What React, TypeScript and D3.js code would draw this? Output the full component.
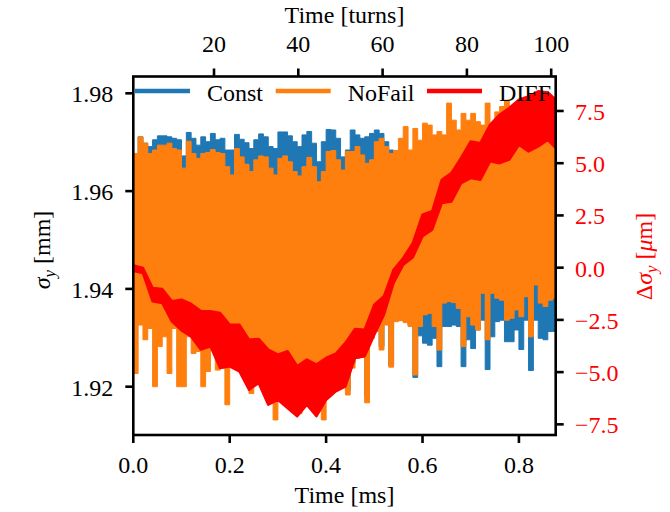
import * as d3 from "d3";

// sampling of the Const / NoFail envelopes (ms)
const T_STEP = 0.01;
const T_MAX = 0.8763;

// Const: upper / lower envelope of sigma_y [mm]
const constTop = [
  1.9674, 1.9711, 1.9698, 1.9691, 1.9705, 1.9713, 1.9713, 1.9711, 1.9708, 1.9705,
  1.9672, 1.972, 1.9708, 1.9694, 1.9711, 1.9701, 1.9718, 1.9705, 1.9708, 1.9684,
  1.9684, 1.9716, 1.9706, 1.9699, 1.9687, 1.9705, 1.9717, 1.9711, 1.9691, 1.9687,
  1.9721, 1.9721, 1.9713, 1.9701, 1.9691, 1.9715, 1.9722, 1.9698, 1.966, 1.9701,
  1.9726, 1.9725, 1.9708, 1.967, 1.9684, 1.9725, 1.9715, 1.9708, 1.9711, 1.9718,
  1.9725, 1.9718, 1.9701, 1.9684, 1.9683, 1.9668, 1.9665, 1.9667, 1.9664, 1.9666,
  1.9668, 1.9665, 1.9667, 1.9666, 1.9664, 1.9668, 1.9666, 1.9665, 1.9667, 1.9666,
  1.9668, 1.9665, 1.9664, 1.9667, 1.9666, 1.9668, 1.9665, 1.9667, 1.9666, 1.9664,
  1.9668, 1.9666, 1.9665, 1.9667, 1.9666, 1.9668, 1.9665, 1.9667,
];
const constBottom = [
  1.9345, 1.9346, 1.9344, 1.9345, 1.9347, 1.9345, 1.9344, 1.9346, 1.9345, 1.9347,
  1.9345, 1.9344, 1.9346, 1.9345, 1.9347, 1.9345, 1.9344, 1.9346, 1.9345, 1.9347,
  1.9345, 1.9344, 1.9346, 1.9345, 1.9347, 1.9345, 1.9344, 1.9346, 1.9345, 1.9347,
  1.9345, 1.9344, 1.9346, 1.9345, 1.9347, 1.9345, 1.9344, 1.9346, 1.9345, 1.9347,
  1.9345, 1.9344, 1.9346, 1.9345, 1.9193, 1.9248, 1.9261, 1.9265, 1.918, 1.9302,
  1.9316, 1.9282, 1.9333, 1.9244, 1.9336, 1.9336, 1.9333, 1.9326, 1.9219, 1.9304,
  1.9289, 1.9285, 1.9299, 1.9241, 1.9323, 1.9323, 1.9326, 1.9323, 1.9241, 1.9296,
  1.9278, 1.9316, 1.9336, 1.9235, 1.9302, 1.9333, 1.9336, 1.9292, 1.9292, 1.9316,
  1.9276, 1.9336, 1.9233, 1.9336, 1.9299, 1.9296, 1.9313, 1.9313,
];

// NoFail: upper / lower envelope of sigma_y [mm]
const noFailTop = [
  1.9677, 1.9711, 1.9698, 1.9677, 1.9684, 1.9694, 1.9694, 1.9698, 1.9687, 1.9684,
  1.9647, 1.9702, 1.9677, 1.9667, 1.9677, 1.9679, 1.9685, 1.9679, 1.9677, 1.965,
  1.9633, 1.9687, 1.967, 1.9655, 1.964, 1.9664, 1.9672, 1.967, 1.9647, 1.9633,
  1.9667, 1.9672, 1.966, 1.964, 1.9631, 1.965, 1.9669, 1.965, 1.9619, 1.964,
  1.9681, 1.9683, 1.9664, 1.9643, 1.9681, 1.9681, 1.9691, 1.9674, 1.9657, 1.9664,
  1.9701, 1.9708, 1.9691, 1.9677, 1.9683, 1.9708, 1.9732, 1.9684, 1.9728, 1.9704,
  1.9739, 1.9735, 1.9715, 1.9722, 1.9715, 1.978, 1.9745, 1.9725, 1.9759, 1.9745,
  1.9759, 1.9742, 1.9735, 1.978, 1.9725, 1.9762, 1.9773, 1.9786, 1.9766, 1.976,
  1.9766, 1.977, 1.9768, 1.9772, 1.977, 1.9768, 1.9764, 1.976,
];
const noFailBottom = [
  1.9227, 1.9326, 1.9296, 1.9319, 1.92, 1.9282, 1.9302, 1.9227, 1.9319, 1.92,
  1.92, 1.9302, 1.9268, 1.9272, 1.92, 1.9231, 1.9282, 1.9234, 1.9238, 1.9163,
  1.925, 1.925, 1.924, 1.9235, 1.9186, 1.9215, 1.9215, 1.921, 1.9175, 1.9132,
  1.918, 1.9175, 1.9165, 1.915, 1.9145, 1.916, 1.917, 1.9155, 1.915, 1.9132,
  1.918, 1.919, 1.9195, 1.92, 1.9183, 1.9238, 1.9258, 1.926, 1.9167, 1.9299,
  1.9313, 1.9275, 1.9326, 1.924, 1.9333, 1.9335, 1.9331, 1.9323, 1.9224, 1.9323,
  1.9347, 1.935, 1.9323, 1.9275, 1.9371, 1.9374, 1.9372, 1.936, 1.9282, 1.9343,
  1.9326, 1.9316, 1.9391, 1.9296, 1.9391, 1.9381, 1.9377, 1.9336, 1.934, 1.9357,
  1.9343, 1.9384, 1.9302, 1.9408, 1.9371, 1.9364, 1.9377, 1.9381,
];

// DIFF band on the right axis [um]
const diffTime = [
  0, 0.02, 0.04, 0.06, 0.08, 0.1, 0.12, 0.14, 0.16, 0.18, 0.2, 0.22, 0.24, 0.26, 0.28,
  0.3, 0.32, 0.34, 0.36, 0.38, 0.4, 0.42, 0.44, 0.46, 0.48, 0.5, 0.52, 0.54, 0.56, 0.58,
  0.6, 0.62, 0.64, 0.66, 0.68, 0.7, 0.72, 0.74, 0.76, 0.78, 0.8, 0.82, 0.84, 0.86, 0.8763,
];
const diffTop = [
  0.1, -0.02, -0.97, -1.02, -1.61, -1.53, -1.74, -2.07, -2.09, -2.17, -2.73, -2.73, -3.45,
  -3.41, -3.92, -4.16, -4.0, -4.72, -4.4, -4.64, -4.32, -4.12, -3.6, -2.94, -2.97, -1.77,
  -1.37, -0.1, 0.46, 1.18, 2.54, 2.7, 4.21, 4.53, 5.25, 6.04, 5.96, 6.84, 7.32, 7.64, 8.04,
  8.2, 8.44, 8.39, 8.04,
];
const diffBottom = [
  -0.15, -0.26, -1.61, -1.69, -2.57, -3.0, -3.29, -3.92, -3.76, -4.8, -4.72, -4.96, -5.84,
  -5.52, -6.56, -6.32, -6.72, -7.11, -6.56, -7.11, -6.32, -5.92, -5.68, -4.32, -4.24, -3.21,
  -2.25, -0.73, 0.14, 0.5, 1.5, 1.82, 3.09, 3.17, 4.05, 4.29, 4.21, 5.09, 5.0, 5.17, 5.88,
  5.56, 5.8, 6.12, 5.72,
];

const xTicks = [0, 0.2, 0.4, 0.6, 0.8];
const turnTicks = [20, 40, 60, 80, 100];
const leftTicks = [1.92, 1.94, 1.96, 1.98];
const rightTicks = [-7.5, -5, -2.5, 0, 2.5, 5, 7.5];

const legendItems = [
  { label: "Const", color: "#1f77b4" },
  { label: "NoFail", color: "#ff7f0e" },
  { label: "DIFF", color: "#ff0000" },
];

const W = 670;
const H = 512;
const PLOT = { left: 133.3, right: 555.7, top: 76.5, bottom: 435 };
const FONT = "'Liberation Serif', 'Times New Roman', serif";
const FS = 24;
const TICK = 8;
const LW = 2.6;

interface Band {
  t: number;
  hi: number;
  lo: number;
}

export default function App() {
  const x = d3.scaleLinear().domain([0, T_MAX]).range([PLOT.left, PLOT.right]);
  const xTurns = d3.scaleLinear().domain([0.85, 101.07]).range([PLOT.left, PLOT.right]);
  const yL = d3.scaleLinear().domain([1.91012, 1.98344]).range([PLOT.bottom, PLOT.top]);
  const yR = d3.scaleLinear().domain([-8.01, 9.15]).range([PLOT.bottom, PLOT.top]);

  const stepBand = (top: number[], bottom: number[]) => {
    const pts: Band[] = top.map((v, i) => ({ t: i * T_STEP, hi: v, lo: bottom[i] }));
    pts.push({ t: T_MAX, hi: top[top.length - 1], lo: bottom[bottom.length - 1] });
    return d3
      .area<Band>()
      .x((d) => x(d.t))
      .y0((d) => yL(d.lo))
      .y1((d) => yL(d.hi))
      .curve(d3.curveStepAfter)(pts) as string;
  };

  const diffPts: Band[] = diffTime.map((t, i) => ({ t, hi: diffTop[i], lo: diffBottom[i] }));
  const diffPath = d3
    .area<Band>()
    .x((d) => x(d.t))
    .y0((d) => yR(d.lo))
    .y1((d) => yR(d.hi))
    .curve(d3.curveLinear)(diffPts) as string;

  const fmt1 = d3.format(".1f");
  const fmt2 = d3.format(".2f");

  const legendX = [135, 275.7, 427];
  const legendY = 91;

  return (
    <div style={{ position: "absolute", left: 0, top: 0 }}>
      <svg width={W} height={H} viewBox={`0 0 ${W} ${H}`} style={{ display: "block", background: "#fff" }}>
        <defs>
          <clipPath id="plot-clip">
            <rect x={PLOT.left} y={PLOT.top} width={PLOT.right - PLOT.left} height={PLOT.bottom - PLOT.top} />
          </clipPath>
        </defs>

        <g clipPath="url(#plot-clip)">
          <path d={stepBand(constTop, constBottom)} fill="#1f77b4" stroke="#1f77b4" strokeWidth={1} />
          <path d={stepBand(noFailTop, noFailBottom)} fill="#ff7f0e" stroke="#ff7f0e" strokeWidth={1} />
          <path d={diffPath} fill="#ff0000" stroke="#ff0000" strokeWidth={2.5} strokeLinejoin="round" />
        </g>

        {/* legend */}
        <g fontFamily={FONT} fontSize={FS}>
          {legendItems.map((item, i) => (
            <g key={item.label}>
              <line
                x1={legendX[i]}
                x2={legendX[i] + 55}
                y1={legendY}
                y2={legendY}
                stroke={item.color}
                strokeWidth={4.3}
              />
              <text x={legendX[i] + 72} y={legendY + 9.7} fill="#000">
                {item.label}
              </text>
            </g>
          ))}
        </g>

        {/* frame */}
        <rect
          x={PLOT.left}
          y={PLOT.top}
          width={PLOT.right - PLOT.left}
          height={PLOT.bottom - PLOT.top}
          fill="none"
          stroke="#000"
          strokeWidth={LW}
        />

        <g fontFamily={FONT} fontSize={FS}>
          {/* bottom axis */}
          {xTicks.map((v) => (
            <g key={`b${v}`}>
              <line x1={x(v)} x2={x(v)} y1={PLOT.bottom} y2={PLOT.bottom + TICK} stroke="#000" strokeWidth={LW} />
              <text x={x(v)} y={472.7} textAnchor="middle">
                {fmt1(v)}
              </text>
            </g>
          ))}
          <text x={(PLOT.left + PLOT.right) / 2} y={503.3} textAnchor="middle">
            Time [ms]
          </text>

          {/* top axis */}
          {turnTicks.map((v) => (
            <g key={`t${v}`}>
              <line x1={xTurns(v)} x2={xTurns(v)} y1={PLOT.top} y2={PLOT.top - TICK} stroke="#000" strokeWidth={LW} />
              <text x={xTurns(v)} y={52.3} textAnchor="middle">
                {v}
              </text>
            </g>
          ))}
          <text x={(PLOT.left + PLOT.right) / 2} y={23.3} textAnchor="middle">
            Time [turns]
          </text>

          {/* left axis */}
          {leftTicks.map((v) => (
            <g key={`l${v}`}>
              <line x1={PLOT.left} x2={PLOT.left - TICK} y1={yL(v)} y2={yL(v)} stroke="#000" strokeWidth={LW} />
              <text x={113.3} y={yL(v)} dy="0.37em" textAnchor="end">
                {fmt2(v)}
              </text>
            </g>
          ))}
          <text transform="translate(50,250) rotate(-90)" textAnchor="middle">
            <tspan fontStyle="italic">σ</tspan>
            <tspan fontStyle="italic" fontSize={17} dy={5}>
              y
            </tspan>
            <tspan dy={-5}> [mm]</tspan>
          </text>

          {/* right axis */}
          {rightTicks.map((v) => (
            <g key={`r${v}`}>
              <line x1={PLOT.right} x2={PLOT.right + TICK} y1={yR(v)} y2={yR(v)} stroke="#000" strokeWidth={LW} />
              <text x={575} y={yR(v)} dy="0.37em" fill="#ff0000">
                {fmt1(v)}
              </text>
            </g>
          ))}
          <text transform="translate(652,256.5) rotate(-90)" textAnchor="middle" fill="#ff0000">
            <tspan>Δ</tspan>
            <tspan fontStyle="italic">σ</tspan>
            <tspan fontStyle="italic" fontSize={17} dy={5}>
              y
            </tspan>
            <tspan dy={-5}> [</tspan>
            <tspan fontStyle="italic">μ</tspan>
            <tspan>m]</tspan>
          </text>
        </g>
      </svg>
    </div>
  );
}
